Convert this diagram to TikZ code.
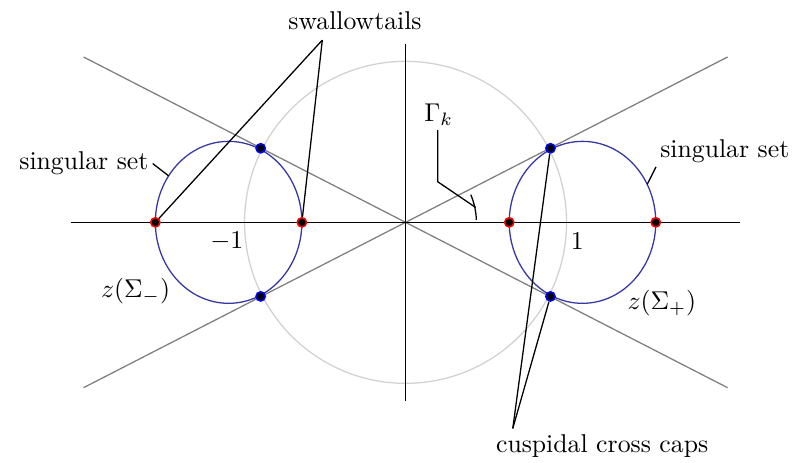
\documentclass[tikz,border=0pt]{standalone}
\usepackage{tikz}
\usetikzlibrary{positioning}

\definecolor{curveblue}{RGB}{55,55,165}

\begin{document}
\begin{tikzpicture}[
    x=2.2cm, y=2.2cm,
    axis/.style={black, line width=0.5pt},
    ray/.style={gray, line width=0.5pt},
    sing/.style={curveblue, line width=0.5pt},
    leader/.style={black, line width=0.5pt},
    lbl/.style={inner sep=1.5pt},
    swdot/.style={circle, draw=red, fill=black, line width=0.6pt, minimum size=3.6pt, inner sep=0pt},
    ccdot/.style={circle, draw=blue, fill=black, line width=0.6pt, minimum size=3.6pt, inner sep=0pt}
]

% Bounding box
\useasboundingbox (-2.519,-1.489) rectangle (2.481,1.381);

% -------------------------
% Background curves
% -------------------------

% Unit circle
\draw[gray!35, line width=0.5pt] (0,0) circle (1);

% Rays through the origin
\coordinate (RayNE) at (2,1.027);
\coordinate (RaySW) at (-2,-1.027);
\coordinate (RayNW) at (-2,1.027);
\coordinate (RaySE) at (2,-1.027);
\draw[ray] (RaySW) -- (RayNE);
\draw[ray] (RayNW) -- (RaySE);

% Axes
\draw[axis] (-2.08,0) -- (2.08,0);
\draw[axis] (0,-1.11) -- (0,1.11);

% Singular sets
\coordinate (CenL) at (-1.099,0);
\coordinate (CenR) at (1.099,0);
\draw[sing] (CenL) ellipse (0.455 and 0.503);
\draw[sing] (CenR) ellipse (0.455 and 0.503);

% Gamma_k
\draw[leader] (2:0.44) arc (2:23:0.44);

% -------------------------
% Singular points
% -------------------------

% Swallowtails
\node[swdot] (SwA) at (-1.554,0) {};
\node[swdot] (SwB) at (-0.644,0) {};
\node[swdot] (SwC) at (0.644,0) {};
\node[swdot] (SwD) at (1.554,0) {};

% Cuspidal cross caps
\node[ccdot] (CcA) at (-0.9,0.46) {};
\node[ccdot] (CcB) at (-0.9,-0.46) {};
\node[ccdot] (CcC) at (0.9,0.46) {};
\node[ccdot] (CcD) at (0.9,-0.46) {};

% -------------------------
% Labels
% -------------------------

\node[lbl] (MinusOne) at (-1.111,-0.116) {$-1$};
\node[lbl] (One) at (1.066,-0.116) {$1$};
\node[lbl] (ZMinus) at (-1.677,-0.429) {$z(\Sigma_-)$};
\node[lbl] (ZPlus) at (1.592,-0.503) {$z(\Sigma_+)$};

% swallowtails
\node[lbl] (Swallow) at (-0.314,1.252) {swallowtails};
\coordinate (SwTip) at (-0.517,1.132);
\draw[leader] (SwTip) -- (SwA);
\draw[leader] (SwTip) -- (SwB);

% cuspidal cross caps
\node[lbl] (Cusp) at (1.221,-1.389) {cuspidal cross caps};
\coordinate (CcTip) at (0.666,-1.280);
\draw[leader] (CcTip) -- (CcC);
\draw[leader] (CcTip) -- (CcD);

% singular set (left)
\node[lbl] (SingL) at (-1.998,0.365) {singular set};
\coordinate (SingLTip) at (-1.472,0.289);
\draw[leader] (SingL.east) -- (SingLTip);

% singular set (right)
\node[lbl] (SingR) at (1.983,0.443) {singular set};
\coordinate (SingRTip) at (1.501,0.236);
\draw[leader] (SingR.south west) -- (SingRTip);

% Gamma_k
\node[lbl] (Gamma) at (0.206,0.666) {$\Gamma_k$};
\coordinate (GamBend) at (0.200,0.252);
\coordinate (GamTip) at (12:0.445);
\draw[leader] (Gamma.south -| GamBend) -- (GamBend) -- (GamTip);

\end{tikzpicture}
\end{document}
